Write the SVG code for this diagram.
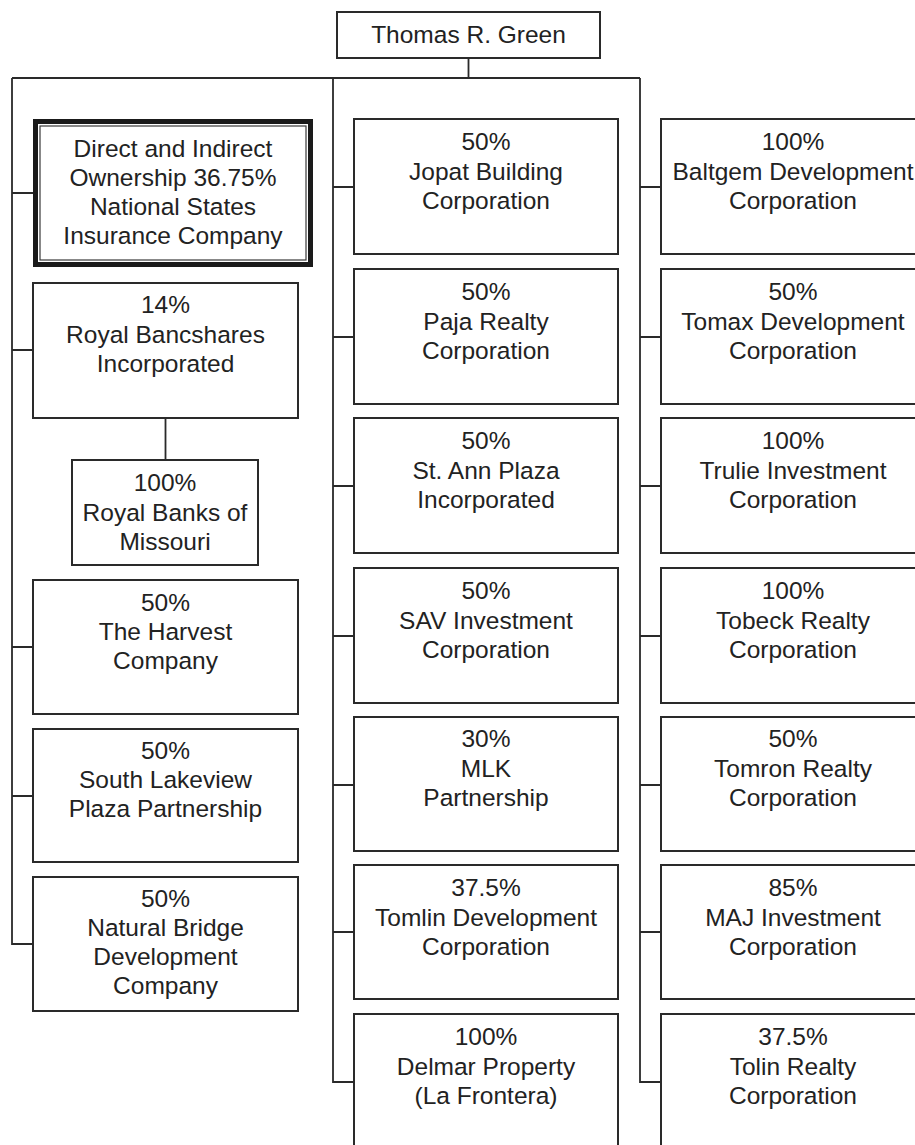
<svg xmlns="http://www.w3.org/2000/svg" width="915" height="1145" viewBox="0 0 915 1145">
<style>
.box{fill:#fff;stroke:#2a2a2a;stroke-width:2}
.thick{fill:#fff;stroke:#1a1a1a;stroke-width:5}
.thin{fill:none;stroke:#3a3a3a;stroke-width:1.2}
.ln{fill:none;stroke:#2a2a2a;stroke-width:1.8}
text{font-family:"Liberation Sans",Arial,sans-serif;font-size:24.5px;fill:#222;text-anchor:middle}
</style>
<rect width="915" height="1145" fill="#fff"/>
<g id="connectors">
<path class="ln" d="M468.5 58 V78 M12 78 H640 M12 78 V944 H33 M12 193 H33 M12 350 H33 M12 647 H33 M12 796 H33 M165.5 418 V460"/>
<path class="ln" d="M333 78 V1082 H354 M333 187 H354 M333 337 H354 M333 486 H354 M333 636 H354 M333 785 H354 M333 932 H354"/>
<path class="ln" d="M640 78 V1082 H661 M640 187 H661 M640 337 H661 M640 486 H661 M640 636 H661 M640 785 H661 M640 932 H661"/>
</g>
<g id="thomas-green"><rect class="box" x="337" y="12" width="263" height="46"/><text x="468.5" y="43">Thomas R. Green</text></g>
<g id="national-states"><rect class="thick" x="35.5" y="121.5" width="275" height="143"/><rect class="thin" x="40" y="126" width="266" height="134"/><text x="173" y="157"><tspan x="173">Direct and Indirect</tspan><tspan x="173" dy="29">Ownership 36.75%</tspan><tspan x="173" dy="29">National States</tspan><tspan x="173" dy="29">Insurance Company</tspan></text></g>
<g id="royal-bancshares"><rect class="box" x="33" y="283" width="265" height="135"/><text x="165.5" y="313"><tspan x="165.5">14%</tspan><tspan x="165.5" dy="29.5">Royal Bancshares</tspan><tspan x="165.5" dy="29.5">Incorporated</tspan></text></g>
<g id="royal-banks"><rect class="box" x="72" y="460" width="186" height="105"/><text x="165" y="491"><tspan x="165">100%</tspan><tspan x="165" dy="29.5">Royal Banks of</tspan><tspan x="165" dy="29.5">Missouri</tspan></text></g>
<g id="harvest"><rect class="box" x="33" y="580" width="265" height="134"/><text x="165.5" y="611"><tspan x="165.5">50%</tspan><tspan x="165.5" dy="29">The Harvest</tspan><tspan x="165.5" dy="29">Company</tspan></text></g>
<g id="south-lakeview"><rect class="box" x="33" y="729" width="265" height="133"/><text x="165.5" y="759"><tspan x="165.5">50%</tspan><tspan x="165.5" dy="29">South Lakeview</tspan><tspan x="165.5" dy="29">Plaza Partnership</tspan></text></g>
<g id="natural-bridge"><rect class="box" x="33" y="877" width="265" height="134"/><text x="165.5" y="907"><tspan x="165.5">50%</tspan><tspan x="165.5" dy="29">Natural Bridge</tspan><tspan x="165.5" dy="29">Development</tspan><tspan x="165.5" dy="29">Company</tspan></text></g>
<g id="jopat"><rect class="box" x="354" y="119" width="264" height="135"/><text x="486" y="150"><tspan x="486">50%</tspan><tspan x="486" dy="29.5">Jopat Building</tspan><tspan x="486" dy="29.5">Corporation</tspan></text></g>
<g id="paja"><rect class="box" x="354" y="269" width="264" height="135"/><text x="486" y="300"><tspan x="486">50%</tspan><tspan x="486" dy="29.5">Paja Realty</tspan><tspan x="486" dy="29.5">Corporation</tspan></text></g>
<g id="st-ann"><rect class="box" x="354" y="418" width="264" height="135"/><text x="486" y="449"><tspan x="486">50%</tspan><tspan x="486" dy="29.5">St. Ann Plaza</tspan><tspan x="486" dy="29.5">Incorporated</tspan></text></g>
<g id="sav"><rect class="box" x="354" y="568" width="264" height="135"/><text x="486" y="599"><tspan x="486">50%</tspan><tspan x="486" dy="29.5">SAV Investment</tspan><tspan x="486" dy="29.5">Corporation</tspan></text></g>
<g id="mlk"><rect class="box" x="354" y="717" width="264" height="134"/><text x="486" y="747"><tspan x="486">30%</tspan><tspan x="486" dy="29.5">MLK</tspan><tspan x="486" dy="29.5">Partnership</tspan></text></g>
<g id="tomlin"><rect class="box" x="354" y="865" width="264" height="134"/><text x="486" y="896"><tspan x="486">37.5%</tspan><tspan x="486" dy="29.5">Tomlin Development</tspan><tspan x="486" dy="29.5">Corporation</tspan></text></g>
<g id="delmar"><rect class="box" x="354" y="1014" width="264" height="140"/><text x="486" y="1045"><tspan x="486">100%</tspan><tspan x="486" dy="29.5">Delmar Property</tspan><tspan x="486" dy="29.5">(La Frontera)</tspan></text></g>
<g id="baltgem"><rect class="box" x="661" y="119" width="264" height="135"/><text x="793" y="150"><tspan x="793">100%</tspan><tspan x="793" dy="29.5">Baltgem Development</tspan><tspan x="793" dy="29.5">Corporation</tspan></text></g>
<g id="tomax"><rect class="box" x="661" y="269" width="264" height="135"/><text x="793" y="300"><tspan x="793">50%</tspan><tspan x="793" dy="29.5">Tomax Development</tspan><tspan x="793" dy="29.5">Corporation</tspan></text></g>
<g id="trulie"><rect class="box" x="661" y="418" width="264" height="135"/><text x="793" y="449"><tspan x="793">100%</tspan><tspan x="793" dy="29.5">Trulie Investment</tspan><tspan x="793" dy="29.5">Corporation</tspan></text></g>
<g id="tobeck"><rect class="box" x="661" y="568" width="264" height="135"/><text x="793" y="599"><tspan x="793">100%</tspan><tspan x="793" dy="29.5">Tobeck Realty</tspan><tspan x="793" dy="29.5">Corporation</tspan></text></g>
<g id="tomron"><rect class="box" x="661" y="717" width="264" height="134"/><text x="793" y="747"><tspan x="793">50%</tspan><tspan x="793" dy="29.5">Tomron Realty</tspan><tspan x="793" dy="29.5">Corporation</tspan></text></g>
<g id="maj"><rect class="box" x="661" y="865" width="264" height="134"/><text x="793" y="896"><tspan x="793">85%</tspan><tspan x="793" dy="29.5">MAJ Investment</tspan><tspan x="793" dy="29.5">Corporation</tspan></text></g>
<g id="tolin"><rect class="box" x="661" y="1014" width="264" height="140"/><text x="793" y="1045"><tspan x="793">37.5%</tspan><tspan x="793" dy="29.5">Tolin Realty</tspan><tspan x="793" dy="29.5">Corporation</tspan></text></g>
</svg>
